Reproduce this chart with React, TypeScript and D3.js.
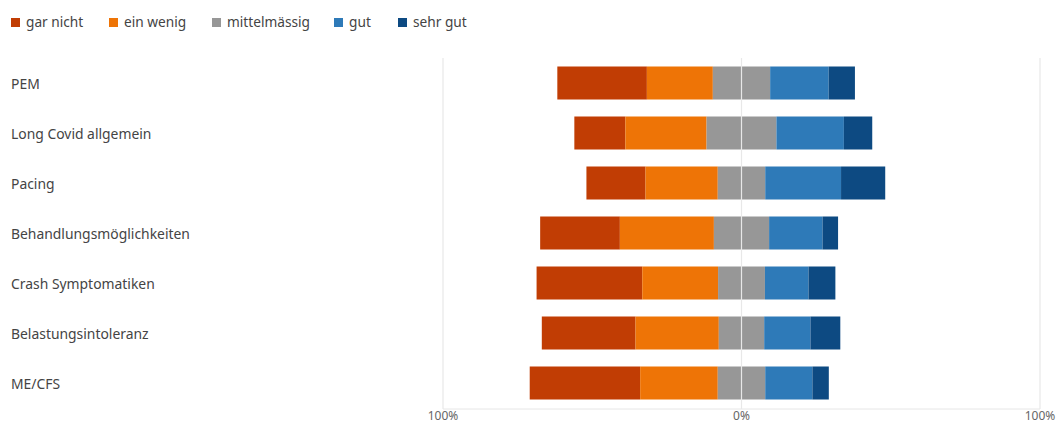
import React from "react";
import * as d3 from "d3";

const categories = [
  "PEM",
  "Long Covid allgemein",
  "Pacing",
  "Behandlungsmöglichkeiten",
  "Crash Symptomatiken",
  "Belastungsintoleranz",
  "ME/CFS",
];
const seriesNames = ["gar nicht", "ein wenig", "mittelmässig", "gut", "sehr gut"];
const garNicht = [30.0, 17.1, 19.8, 26.7, 35.4, 31.4, 37.0];
const einWenig = [22.1, 27.2, 24.2, 31.5, 25.4, 27.9, 26.0];
const mittelmaessig = [19.2, 23.4, 15.9, 18.5, 15.7, 15.2, 15.9];
const gut = [19.6, 22.6, 25.4, 17.9, 14.6, 15.5, 15.8];
const sehrGut = [8.8, 9.5, 14.8, 5.2, 9.0, 10.0, 5.5];
const tickValues = [-100, 0, 100];
const tickLabels = ["100%", "0%", "100%"];
const colors = ["#C13D04", "#EE7406", "#979797", "#2E7AB8", "#0D4A82"];

const W = 1060;
const H = 424;
const FONT = "'Noto Sans', 'Open Sans', sans-serif";

export default function App() {
  const x = d3.scaleLinear().domain([-100, 100]).range([443, 1040]);
  const y = d3
    .scaleBand<string>()
    .domain(categories)
    .range([58, 408])
    .paddingInner(0.34)
    .paddingOuter(0.17);

  const series = [garNicht, einWenig, mittelmaessig, gut, sehrGut];

  const segs: { cat: string; x0: number; x1: number; color: string; key: string }[] = [];
  categories.forEach((cat, i) => {
    let start = -(garNicht[i] + einWenig[i] + mittelmaessig[i] / 2);
    series.forEach((s, k) => {
      const v = s[i];
      segs.push({ cat, x0: start, x1: start + v, color: colors[k], key: `${i}-${k}` });
      start += v;
    });
  });

  const legendX = [11, 109, 212, 334, 398];

  return (
    <svg width={W} height={H} style={{ position: "absolute", left: 0, top: 0 }} fontFamily={FONT}>
      <rect width={W} height={H} fill="#fff" />
      {/* legend */}
      {seriesNames.map((n, k) => (
        <g key={n} transform={`translate(${legendX[k]},0)`}>
          <rect x={0} y={18} width={9} height={9} fill={colors[k]} />
          <text x={15} y={26.5} fontSize={13.7} fill="#444">
            {n}
          </text>
        </g>
      ))}
      {/* gridlines */}
      {tickValues.map((t) => (
        <line key={t} x1={x(t)} x2={x(t)} y1={58} y2={409} stroke="#e3e3e3" strokeWidth={1} />
      ))}
      <line x1={x(-100)} x2={x(100)} y1={409} y2={409} stroke="#e6e6e6" strokeWidth={1} />
      {/* bars */}
      {segs.map((s) => (
        <rect
          key={s.key}
          x={x(s.x0)}
          y={y(s.cat)!}
          width={x(s.x1) - x(s.x0)}
          height={y.bandwidth()}
          fill={s.color}
        />
      ))}
      <line x1={x(0)} x2={x(0)} y1={58} y2={409} stroke="#e8e8e8" strokeWidth={1.2} />
      {/* category labels */}
      {categories.map((c) => (
        <text key={c} x={11} y={y(c)! + y.bandwidth() / 2 + 6} fontSize={13.9} fill="#444">
          {c}
        </text>
      ))}
      {/* tick labels */}
      {tickValues.map((t, i) => (
        <text key={t} x={x(t)} y={420} fontSize={12} fill="#666" textAnchor="middle">
          {tickLabels[i]}
        </text>
      ))}
    </svg>
  );
}
